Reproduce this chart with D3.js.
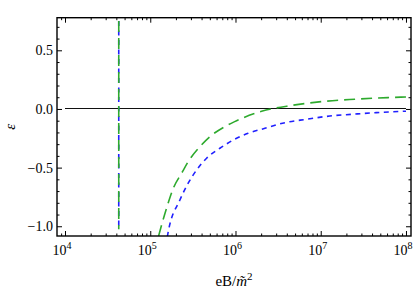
<!DOCTYPE html>
<html>
<head>
<meta charset="utf-8">
<title>epsilon vs eB</title>
<style>
  body { margin: 0; background: #fff; }
  svg text { font-family: "Liberation Serif", "DejaVu Serif", serif; fill: #000; }
</style>
</head>
<body>
<div id="chart"></div>
<script src="https://cdn.jsdelivr.net/npm/d3@7/dist/d3.min.js"></script>
<script>
// values
var greenX = [125300, 130000, 162600, 186200, 233300, 278600, 382800, 501200, 751600, 977200,
              2023000, 4550000, 10670000, 25120000, 61660000, 100000000];
var greenY = [-1.083, -1.04, -0.80, -0.677, -0.548, -0.449, -0.321, -0.236, -0.150, -0.108,
              -0.02, 0.03, 0.064, 0.083, 0.097, 0.102];
var blueX = [158500, 162600, 222800, 278600, 349900, 458100, 656100, 1030000, 1409000, 2213000,
             3793000, 6808000, 12790000, 23990000, 45080000, 92470000, 100000000];
var blueY = [-1.09, -1.046, -0.776, -0.633, -0.52, -0.42, -0.335, -0.25, -0.207, -0.165,
             -0.117, -0.088, -0.06, -0.045, -0.031, -0.02, -0.019];
// jump of both curves (drawn as a vertical segment)
var jumpX = 42700;
var jumpY = [-1.026, 0.75];

var xMajor = [1e4, 1e5, 1e6, 1e7, 1e8];
var xExp = ["4", "5", "6", "7", "8"];
var yMajor = [-1.0, -0.5, 0.0, 0.5];
var yLabels = ["\u22121.0", "\u22120.5", "0.0", "0.5"];

var W = 417, H = 291;
var m = { left: 57, top: 17.7, right: 6, bottom: 55 };

var svg = d3.select("#chart").append("svg")
    .attr("width", W)
    .attr("height", H);

var x = d3.scaleLog()
    .domain([Math.pow(10, 3.906), Math.pow(10, 8.059)])
    .range([m.left, W - m.right]);
var y = d3.scaleLinear()
    .domain([-1.083, 0.778])
    .range([H - m.bottom, m.top]);

svg.append("clipPath").attr("id", "clip")
  .append("rect")
    .attr("x", m.left).attr("y", m.top)
    .attr("width", W - m.left - m.right)
    .attr("height", H - m.top - m.bottom);

// minor tick values
var xMinor = [];
for (var e = 3; e < 9; e++) {
    for (var k = 2; k <= 9; k++) {
        var v = k * Math.pow(10, e);
        if (v > x.domain()[0] && v < x.domain()[1]) xMinor.push(v);
    }
}
var yMinor = d3.range(-10, 8).map(function(d) { return d / 10; })
    .filter(function(d) { return Math.abs(d * 2 - Math.round(d * 2)) > 1e-9; });

function tickAxis(axisFn, scale, vals, size, pos) {
    var g = svg.append("g")
        .attr("transform", pos)
        .call(axisFn(scale).tickValues(vals).tickSizeInner(-size).tickSizeOuter(0).tickFormat(""));
    g.select(".domain").remove();
    g.selectAll("line").attr("stroke", "#000").attr("stroke-width", 1);
}

var bottom = H - m.bottom, right = W - m.right;
tickAxis(d3.axisBottom, x, xMajor, 5, "translate(0," + bottom + ")");
tickAxis(d3.axisBottom, x, xMinor, 2.5, "translate(0," + bottom + ")");
tickAxis(d3.axisTop, x, xMajor, 5, "translate(0," + m.top + ")");
tickAxis(d3.axisTop, x, xMinor, 2.5, "translate(0," + m.top + ")");
tickAxis(d3.axisLeft, y, yMajor, 5, "translate(" + m.left + ",0)");
tickAxis(d3.axisLeft, y, yMinor, 2.5, "translate(" + m.left + ",0)");
tickAxis(d3.axisRight, y, yMajor, 5, "translate(" + right + ",0)");
tickAxis(d3.axisRight, y, yMinor, 2.5, "translate(" + right + ",0)");

// tick labels
var xl = svg.selectAll(".xlab")
    .data(xMajor)
    .enter().append("text")
        .attr("class", "xlab")
        .attr("x", function(d) { return x(d) - 3; })
        .attr("y", bottom + 19)
        .attr("text-anchor", "middle")
        .style("font-size", "14px");
xl.append("tspan").text("10");
xl.append("tspan")
    .attr("dy", -6)
    .style("font-size", "10px")
    .text(function(d, i) { return xExp[i]; });

svg.selectAll(".ylab")
    .data(yMajor)
    .enter().append("text")
        .attr("class", "ylab")
        .attr("x", m.left - 4)
        .attr("y", function(d) { return y(d) + 5; })
        .attr("text-anchor", "end")
        .style("font-size", "14px")
        .text(function(d, i) { return yLabels[i]; });

// axis titles
var xt = svg.append("text")
    .attr("x", (m.left + right) / 2)
    .attr("y", H - 5)
    .attr("text-anchor", "middle")
    .style("font-size", "15px");
xt.append("tspan").text("eB/");
xt.append("tspan").style("font-style", "italic").text("m\u0303");
xt.append("tspan").attr("dy", -6).style("font-size", "11px").text("2");

svg.append("text")
    .attr("transform", "translate(15," + ((m.top + bottom) / 2) + ") rotate(-90)")
    .attr("text-anchor", "middle")
    .style("font-size", "15px")
    .style("font-style", "italic")
    .text("\u03b5");

// plot contents
var plot = svg.append("g").attr("clip-path", "url(#clip)");

var y0 = Math.floor(y(0)) + 0.5;
plot.append("line")
    .attr("x1", x(1e4)).attr("x2", x(1e8))
    .attr("y1", y0).attr("y2", y0)
    .attr("stroke", "#111")
    .attr("stroke-width", 1);

var line = d3.line()
    .x(function(d) { return x(d[0]); })
    .y(function(d) { return y(d[1]); })
    .curve(d3.curveMonotoneX);

var series = [
    { xs: blueX, ys: blueY, color: "#2020ff", dash: "5,4.5" },
    { xs: greenX, ys: greenY, color: "#2eaa2e", dash: "11,6" }
];

series.forEach(function(s) {
    plot.append("line")
        .attr("x1", x(jumpX)).attr("x2", x(jumpX))
        .attr("y1", y(jumpY[1])).attr("y2", y(jumpY[0]))
        .attr("stroke", s.color)
        .attr("stroke-width", 1.6)
        .attr("stroke-dasharray", s.dash);
    plot.append("path")
        .datum(s.xs.map(function(v, i) { return [v, s.ys[i]]; }))
        .attr("d", line)
        .attr("fill", "none")
        .attr("stroke", s.color)
        .attr("stroke-width", 1.6)
        .attr("stroke-dasharray", s.dash);
});

// frame
svg.append("rect")
    .attr("x", m.left).attr("y", m.top)
    .attr("width", right - m.left)
    .attr("height", bottom - m.top)
    .attr("fill", "none")
    .attr("stroke", "#000")
    .attr("stroke-width", 1.4);
</script>
</body>
</html>
